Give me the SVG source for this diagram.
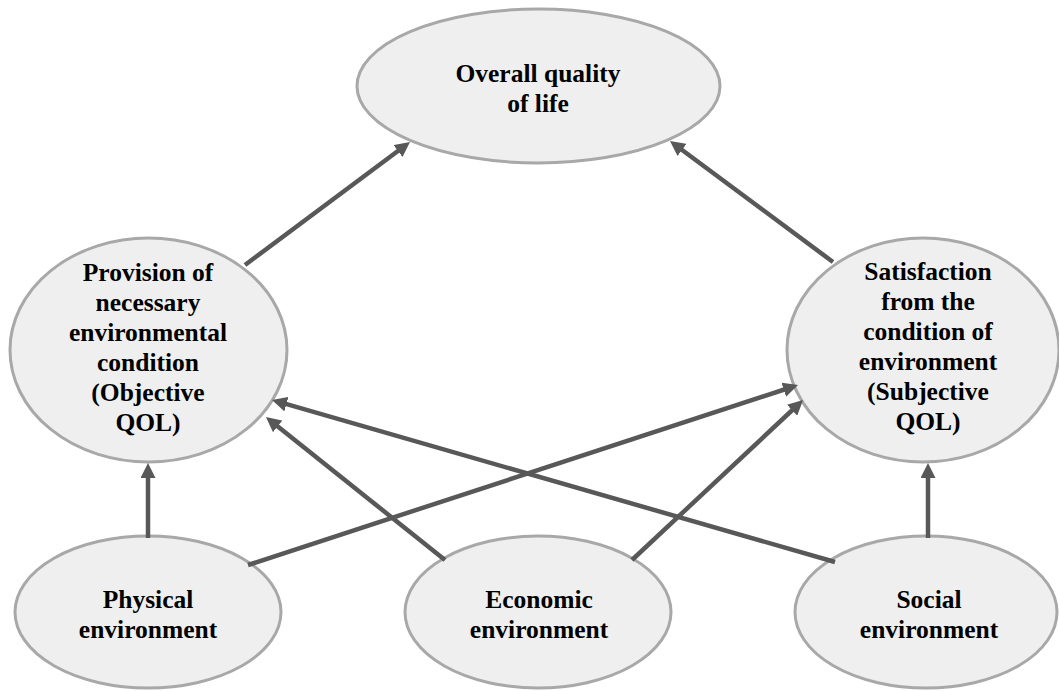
<svg xmlns="http://www.w3.org/2000/svg" width="1059" height="691" viewBox="0 0 1059 691">
<style>
  .node ellipse { fill: #efefef; stroke: #a8a8a8; stroke-width: 3; }
  .node text { font-family: "Liberation Serif", "Times New Roman", serif; font-weight: bold; font-size: 25.5px; fill: #000; text-anchor: middle; }
  .conn line { stroke: #585858; stroke-width: 4.5; fill: none; marker-end: url(#arrow); }
</style>
<defs>
  <marker id="arrow" markerUnits="userSpaceOnUse" markerWidth="15" markerHeight="15" refX="7" refY="7.5" orient="auto">
    <path d="M0,0 L15,7.5 L0,15 z" fill="#585858"/>
  </marker>
</defs>
<rect width="1059" height="691" fill="#ffffff"/>
<g id="overall" class="node">
  <ellipse cx="538.5" cy="86" rx="181.5" ry="77"/>
  <text x="538" y="82">Overall quality</text>
  <text x="538" y="112">of life</text>
</g>
<g id="objective" class="node">
  <ellipse cx="148.5" cy="350" rx="138.5" ry="112"/>
  <text x="148" y="281">Provision of</text>
  <text x="148" y="311">necessary</text>
  <text x="148" y="341">environmental</text>
  <text x="148" y="371">condition</text>
  <text x="148" y="401">(Objective</text>
  <text x="148" y="431">QOL)</text>
</g>
<g id="subjective" class="node">
  <ellipse cx="923" cy="350" rx="136" ry="112"/>
  <text x="928" y="280">Satisfaction</text>
  <text x="928" y="310">from the</text>
  <text x="928" y="340">condition of</text>
  <text x="928" y="370">environment</text>
  <text x="928" y="400">(Subjective</text>
  <text x="928" y="430">QOL)</text>
</g>
<g id="physical" class="node">
  <ellipse cx="148" cy="612" rx="133" ry="76"/>
  <text x="148" y="608">Physical</text>
  <text x="148" y="638">environment</text>
</g>
<g id="economic" class="node">
  <ellipse cx="538" cy="612" rx="133" ry="76"/>
  <text x="539" y="608">Economic</text>
  <text x="539" y="638">environment</text>
</g>
<g id="social" class="node">
  <ellipse cx="926" cy="612" rx="131" ry="76"/>
  <text x="929" y="608">Social</text>
  <text x="929" y="638">environment</text>
</g>
<g id="connectors" class="conn">
  <line x1="245" y1="265" x2="403.6" y2="146.8"/>
  <line x1="833" y1="262" x2="676.4" y2="145.8"/>
  <line x1="835" y1="562" x2="279.7" y2="402.2"/>
  <line x1="445" y1="560" x2="272.2" y2="422"/>
  <line x1="248" y1="565" x2="790.4" y2="387.5"/>
  <line x1="632" y1="560" x2="797.2" y2="405.5"/>
  <line x1="148" y1="538" x2="148" y2="471"/>
  <line x1="928" y1="538" x2="928" y2="471"/>
</g>
</svg>
